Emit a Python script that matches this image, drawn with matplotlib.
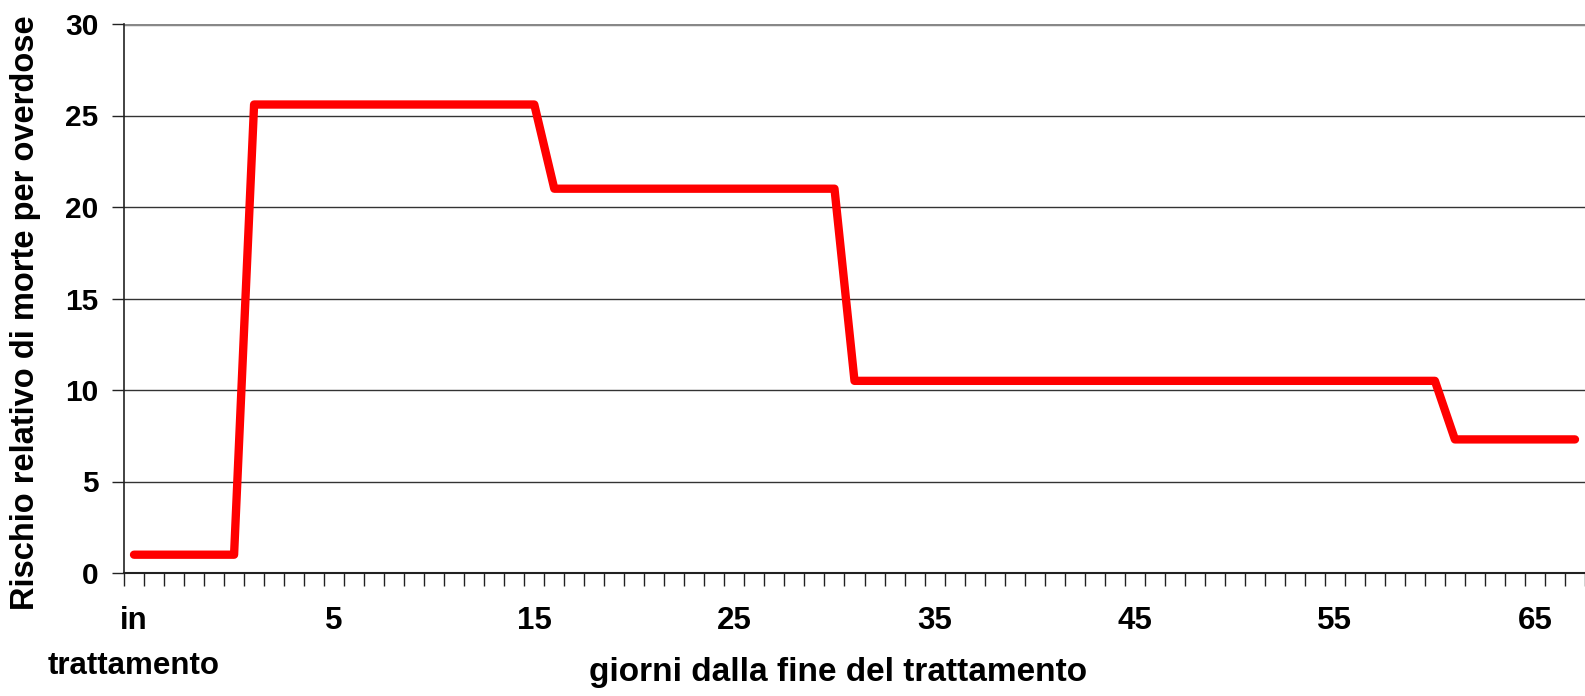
import numpy as np
import matplotlib.pyplot as plt

plt.rcParams['font.family'] = ['Liberation Sans', 'DejaVu Sans']
plt.rcParams['font.weight'] = 'bold'

# categories: "in trattamento" then days from the end of treatment
categories = ['in\ntrattamento'] + [str(d) for d in range(-4, 68)]
# relative risk of overdose death
risk = ([1.0] * 6 + [25.6] * 15 + [21.0] * 15 + [10.5] * 30 + [7.3] * 7)
shown_labels = ['in\ntrattamento', '5', '15', '25', '35', '45', '55', '65']

W, H = 1585, 696
fig = plt.figure(figsize=(W / 100, H / 100), dpi=100)
ax = fig.add_axes([124 / W, 123 / H, 1 - 124 / W, (573 - 24) / H])

x = np.arange(len(categories))
ax.plot(x, risk, color='#ff0000', lw=6, solid_joinstyle='round',
        solid_capstyle='round', clip_on=False, zorder=3)

ax.set_xlim(-0.5, (W - 124) / 20.1 - 0.5)
ax.set_ylim(0, 30)

ax.set_yticks(np.arange(0, 31, 5))
ax.yaxis.grid(True, color='#333333', lw=1.0)
ax.set_axisbelow(True)

# tick marks between categories, labels at every 10th category
ax.set_xticks(np.arange(-0.5, len(categories), 1.0))
ax.set_xticklabels([])
lab_pos = [categories.index(c) for c in shown_labels]
ax.set_xticks(lab_pos, minor=True)
ax.set_xticklabels(shown_labels, minor=True, fontsize=22.5, fontweight='bold',
                   linespacing=1.65)
ax.tick_params(axis='x', which='major', direction='out', length=9,
               width=1, color='#222222')
ax.tick_params(axis='x', which='minor', length=0, pad=24)
ax.tick_params(axis='y', direction='out', length=9, width=1,
               color='#222222', pad=9.5, labelsize=21.5)
for lab in ax.get_yticklabels():
    lab.set_fontweight('bold')

for s in ['top', 'right']:
    ax.spines[s].set_visible(False)
ax.spines['left'].set_color('#222222')
ax.spines['bottom'].set_color('#222222')
ax.spines['left'].set_linewidth(1.2)
ax.spines['bottom'].set_linewidth(1.5)
ax.axhline(30, color='#888888', lw=2.5, zorder=1)

fig.text(838 / W, 1 - 673 / H, 'giorni dalla fine del trattamento',
         ha='center', va='center', fontsize=24, fontweight='bold')
fig.text(26 / W, 1 - 313 / H, 'Rischio relativo di morte per overdose',
         ha='center', va='center', rotation=90, fontsize=23.5,
         fontweight='bold')

fig.savefig('out.png', dpi=100)
